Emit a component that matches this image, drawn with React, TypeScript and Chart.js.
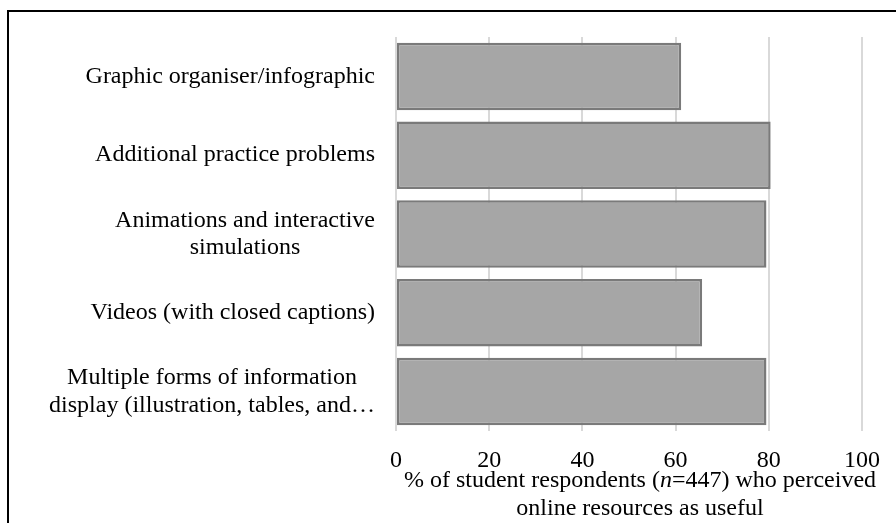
import React, { useEffect, useRef } from "react";
import { Chart, registerables } from "chart.js";

Chart.register(...registerables);

const categories: string[][] = [
  ["Graphic organiser/infographic"],
  ["Additional practice problems"],
  ["Animations and interactive", "simulations"],
  ["Videos (with closed captions)"],
  ["Multiple forms of information", "display (illustration, tables, and…"],
];
const values: number[] = [61.2, 80.4, 79.5, 65.7, 79.5];
const xMin = 0;
const xMax = 100;
const xStep = 20;
const titleLine1: { text: string; italic: boolean }[] = [
  { text: "% of student respondents (", italic: false },
  { text: "n", italic: true },
  { text: "=447) who perceived", italic: false },
];
const titleLine2 = "online resources as useful";

const FONT_FAMILY = "'Liberation Serif', 'Times New Roman', serif";
const FONT_SIZE = 24;
const LINE_H = 27.5;

const labelPlugin = {
  id: "customLabels",
  afterDraw(chart: any) {
    const ctx = chart.ctx as CanvasRenderingContext2D;
    const area = chart.chartArea;
    const yScale = chart.scales.y;
    ctx.save();
    ctx.fillStyle = "#000";
    ctx.textBaseline = "middle";
    ctx.font = `${FONT_SIZE}px ${FONT_FAMILY}`;
    const right = area.left - 21;
    categories.forEach((lines, i) => {
      const cy = yScale.getPixelForValue(i);
      const widths = lines.map((l) => ctx.measureText(l).width);
      const maxW = Math.max(...widths);
      const cx = right - maxW / 2;
      ctx.textAlign = "center";
      lines.forEach((l, j) => {
        ctx.fillText(l, cx, cy + (j - (lines.length - 1) / 2) * LINE_H);
      });
    });
    // axis title
    const tcx = (area.left + area.right) / 2 + 11;
    const y1 = area.bottom + 50;
    const y2 = y1 + LINE_H;
    ctx.textAlign = "left";
    let total = 0;
    const segW = titleLine1.map((s) => {
      ctx.font = `${s.italic ? "italic " : ""}${FONT_SIZE}px ${FONT_FAMILY}`;
      const w = ctx.measureText(s.text).width;
      total += w;
      return w;
    });
    let x = tcx - total / 2;
    titleLine1.forEach((s, k) => {
      ctx.font = `${s.italic ? "italic " : ""}${FONT_SIZE}px ${FONT_FAMILY}`;
      ctx.fillText(s.text, x, y1);
      x += segW[k];
    });
    ctx.font = `${FONT_SIZE}px ${FONT_FAMILY}`;
    ctx.textAlign = "center";
    ctx.fillText(titleLine2, tcx, y2);
    ctx.restore();
  },
};

export default function App() {
  const canvasRef = useRef<HTMLCanvasElement | null>(null);
  useEffect(() => {
    if (!canvasRef.current) return;
    const chart = new Chart(canvasRef.current, {
      type: "bar",
      data: {
        labels: categories.map((c) => c.join(" ")),
        datasets: [
          {
            data: values,
            backgroundColor: "#a6a6a6",
            borderColor: "#7a7a7a",
            borderWidth: 2.5,
            borderSkipped: false,
            categoryPercentage: 1,
            barPercentage: 0.857,
          },
        ],
      },
      options: {
        indexAxis: "y",
        responsive: false,
        animation: false,
        layout: { padding: { left: 396, right: 34, top: 37, bottom: 0 } },
        plugins: { legend: { display: false }, tooltip: { enabled: false } },
        scales: {
          y: { display: false },
          x: {
            min: xMin,
            max: xMax,
            ticks: {
              stepSize: xStep,
              color: "#000",
              font: { family: FONT_FAMILY, size: FONT_SIZE },
              padding: 15,
              maxRotation: 0,
            },
            grid: { color: "#d9d9d9", lineWidth: 2, drawTicks: false },
            border: { display: false },
            afterFit: (scale: any) => {
              scale.paddingLeft = 0;
              scale.paddingRight = 0;
              scale.height = 92;
            },
          },
        },
      },
      plugins: [labelPlugin],
    });
    return () => chart.destroy();
  }, []);
  return (
    <div style={{ position: "fixed", left: 0, top: 0, width: 896, height: 523, overflow: "hidden", background: "#fff" }}>
      <canvas ref={canvasRef} width={896} height={523} style={{ position: "absolute", left: 0, top: 0, width: 896, height: 523 }} />
      <div style={{ position: "absolute", left: 7, top: 10, width: 2000, height: 2000, borderLeft: "2px solid #000", borderTop: "2px solid #000" }} />
    </div>
  );
}
